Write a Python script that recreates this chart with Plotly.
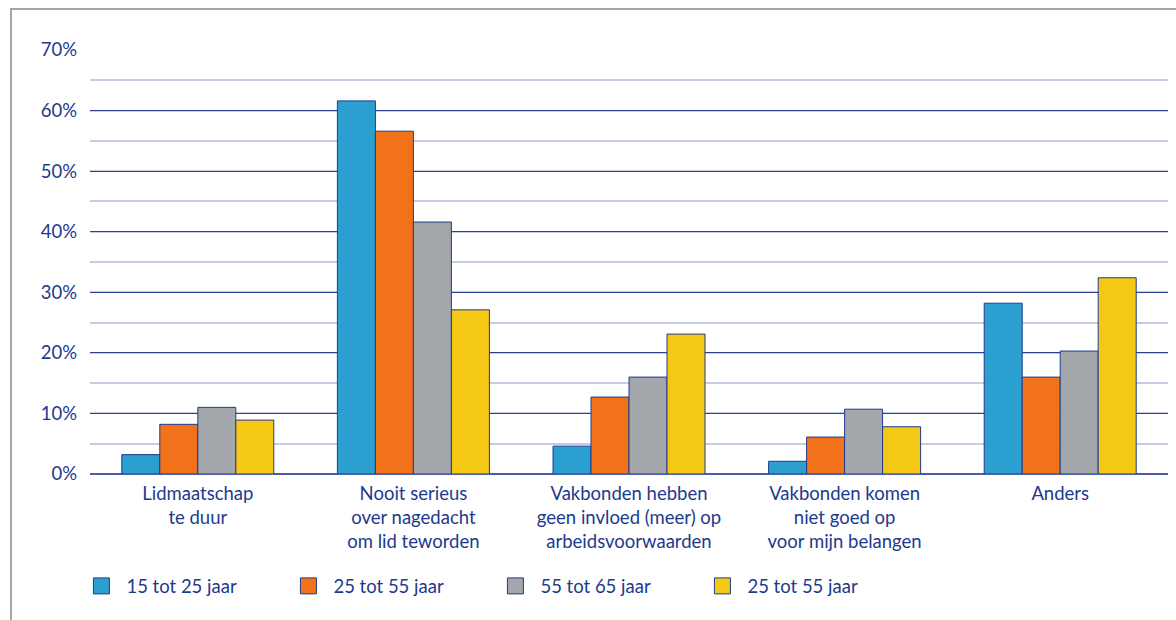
import plotly.graph_objects as go

categories = [
    "Lidmaatschap<br>te duur",
    "Nooit serieus<br>over nagedacht<br>om lid teworden",
    "Vakbonden hebben<br>geen invloed (meer) op<br>arbeidsvoorwaarden",
    "Vakbonden komen<br>niet goed op<br>voor mijn belangen",
    "Anders",
]
series_names = ["15 tot 25 jaar", "25 tot 55 jaar", "55 tot 65 jaar", "25 tot 55 jaar"]
s1 = [3.2, 61.6, 4.6, 2.1, 28.2]
s2 = [8.2, 56.6, 12.7, 6.1, 16.0]
s3 = [11.0, 41.6, 16.0, 10.7, 20.3]
s4 = [8.9, 27.1, 23.1, 7.8, 32.4]
colors = ["#2b9fd0", "#f27219", "#a3a7ab", "#f5c816"]
y_ticks = [0, 10, 20, 30, 40, 50, 60, 70]
y_ticktext = [f"{v}%" for v in y_ticks]

text_color = "#1d3a8c"
outline = "#1f3a8f"
fsize = 18.5

fig = go.Figure()
for name, vals, col in zip(series_names, [s1, s2, s3, s4], colors):
    fig.add_trace(go.Bar(
        x=categories, y=vals, name=name,
        marker=dict(color=col, line=dict(color=outline, width=1)),
        showlegend=False,
    ))
# legend entries (square swatches)
for name, col in zip(series_names, colors):
    fig.add_trace(go.Scatter(
        x=[None], y=[None], mode="markers", name=name,
        marker=dict(symbol="square", size=16, color=col, line=dict(color=outline, width=1)),
        showlegend=True,
    ))

fig.update_layout(
    width=1176, height=620,
    margin=dict(l=90, r=8, t=50, b=146),
    paper_bgcolor="white", plot_bgcolor="white",
    barmode="group", bargap=0.295, bargroupgap=0,
    font=dict(family="Lato, Open Sans, sans-serif", size=fsize, color=text_color),
    legend=dict(
        orientation="h", x=-0.0126, xanchor="left", y=-0.265, yanchor="middle",
        itemwidth=40,
        entrywidth=152, entrywidthmode="pixels",
        font=dict(size=fsize, color=text_color),
        itemsizing="trace", bgcolor="rgba(0,0,0,0)",
        traceorder="normal",
    ),
    showlegend=True,
    shapes=[dict(
        type="rect", xref="paper", yref="paper",
        x0=-0.0733, x1=1.02, y0=-0.4, y1=1.0967,
        line=dict(color="#a6a6a6", width=2), fillcolor="rgba(0,0,0,0)", layer="below",
    )],
)
fig.update_xaxes(
    showgrid=False, showline=False, ticks="", ticklabelstandoff=6,
    tickfont=dict(size=fsize, color=text_color),
)
fig.update_yaxes(
    range=[0, 70], tickvals=y_ticks, ticktext=y_ticktext,
    showgrid=True, gridcolor="#2a3f96", gridwidth=1,
    zeroline=True, zerolinecolor="#4a5fa8", zerolinewidth=1.5,
    minor=dict(dtick=5, showgrid=True, gridcolor="#c5cde3", gridwidth=1.5),
    ticks="", ticklabelstandoff=12,
    tickfont=dict(size=fsize, color=text_color),
)

fig.write_html(
    "out.html",
    config={"displayModeBar": False},
    post_script="document.body.style.margin='0';document.body.style.overflow='hidden';",
)
